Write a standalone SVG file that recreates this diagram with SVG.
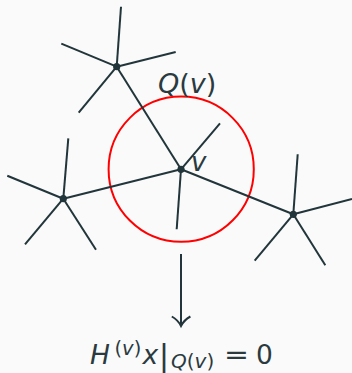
<svg xmlns="http://www.w3.org/2000/svg" width="352" height="373" viewBox="0 0 352 373">
<style>
.e{stroke:#21353a;stroke-width:2;stroke-linecap:butt;fill:none}
.n{fill:#21353a}
.t{font-family:"DejaVu Sans",sans-serif;fill:#2b3a3f}
.i{font-style:italic}
</style>
<rect width="352" height="373" fill="#fafafa"/>
<circle id="region" cx="181.2" cy="169.2" r="72.6" fill="none" stroke="#ff0000" stroke-width="2"/>
<g id="connectors">
<line class="e" x1="116.7" y1="66.7" x2="181" y2="169.3"/>
<line class="e" x1="63.3" y1="198.7" x2="181" y2="169.3"/>
<line class="e" x1="293.3" y1="214.3" x2="181" y2="169.3"/>
<line class="e" x1="181" y1="169.3" x2="220" y2="123.3"/>
<line class="e" x1="181" y1="169.3" x2="176.7" y2="229.3"/>
<line class="e" x1="116.7" y1="66.7" x2="121" y2="6.7"/>
<line class="e" x1="116.7" y1="66.7" x2="61.3" y2="43.7"/>
<line class="e" x1="116.7" y1="66.7" x2="175.7" y2="52"/>
<line class="e" x1="116.7" y1="66.7" x2="78.7" y2="112.7"/>
<line class="e" x1="63.3" y1="198.7" x2="68.3" y2="138.3"/>
<line class="e" x1="63.3" y1="198.7" x2="7.3" y2="175.7"/>
<line class="e" x1="63.3" y1="198.7" x2="25" y2="244.3"/>
<line class="e" x1="63.3" y1="198.7" x2="96" y2="249.7"/>
<line class="e" x1="293.3" y1="214.3" x2="297.7" y2="154.3"/>
<line class="e" x1="293.3" y1="214.3" x2="352" y2="199"/>
<line class="e" x1="293.3" y1="214.3" x2="254.7" y2="260.7"/>
<line class="e" x1="293.3" y1="214.3" x2="325.3" y2="265.3"/>
<line class="e" x1="181" y1="254" x2="181" y2="325.5"/>
<path class="e" d="M171.8,316.5 Q178,320 181,326 Q184,320 190.4,316.5"/>
</g>
<g id="node-top"><circle class="n" cx="116.7" cy="66.7" r="3.6"/></g>
<g id="node-v"><circle class="n" cx="181" cy="169.3" r="3.6"/></g>
<g id="node-left"><circle class="n" cx="63.3" cy="198.7" r="3.6"/></g>
<g id="node-right"><circle class="n" cx="293.3" cy="214.3" r="3.6"/></g>
<g id="labels">
<text class="t" x="158" y="93" font-size="27"><tspan class="i">Q</tspan>(<tspan class="i">v</tspan>)</text>
<text class="t i" x="191" y="171" font-size="26">v</text>
<text class="t i" x="90" y="364" font-size="26.5">H</text>
<text class="t" x="114.5" y="354.5" font-size="19.5">(<tspan class="i">v</tspan>)</text>
<text class="t i" x="142.5" y="364" font-size="26.5">x</text>
<text class="t" x="158.8" y="365.5" font-size="31">|</text>
<text class="t" x="171" y="368" font-size="20"><tspan class="i">Q</tspan>(<tspan class="i">v</tspan>)</text>
<text class="t" x="224" y="364" font-size="26.5" textLength="25" lengthAdjust="spacingAndGlyphs">=</text>
<text class="t" x="256" y="364" font-size="26.5">0</text>
</g>
</svg>
